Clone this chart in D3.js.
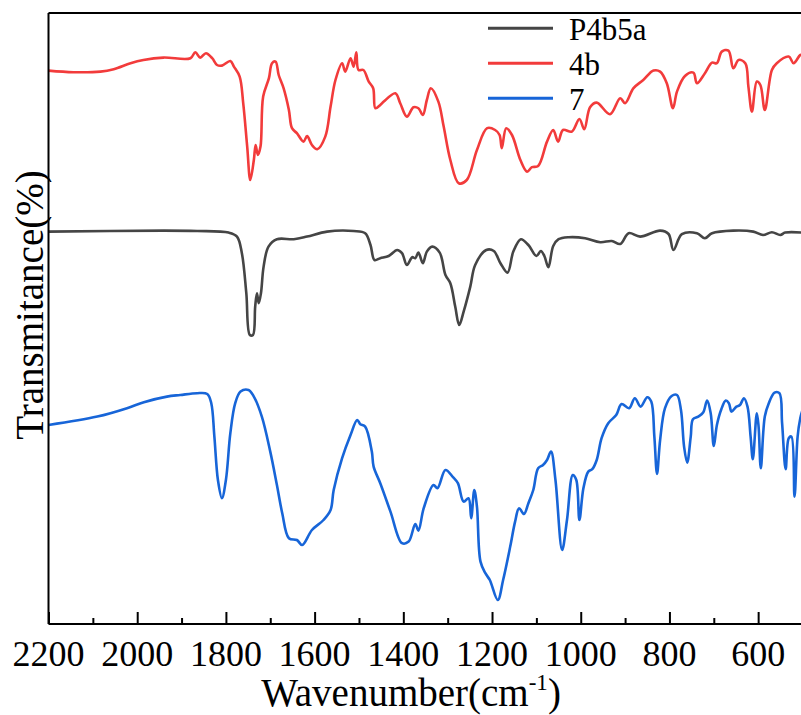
<!DOCTYPE html>
<html>
<head>
<meta charset="utf-8">
<script src="https://cdn.jsdelivr.net/npm/d3@7"></script>
<style>
  .lbl { font-family: 'Liberation Serif', 'Times New Roman', Tinos, serif !important; fill: #000; }
</style>
</head>
<body style="margin:0">
<svg id="chart" width="801" height="715"></svg>
<script>
// FTIR spectra, offset-stacked transmittance (arbitrary units), wavenumber in cm-1
const seriesNames = ["P4b5a", "4b", "7"];
const seriesColors = ["#454545", "#f23b3b", "#1765d8"];

const wnP4b5a = [2200,1940,1865,1794,1775,1764,1754,1746,1739,1734,1730,1726,1721,1715,1704,1685,1647,1617,1572,1512,1486,1474,1465,1452,1433,1414,1403,1392,1380,1373,1366,1356,1347,1335,1318,1305,1294,1283,1274,1264,1249,1238,1213,1196,1181,1165,1152,1135,1118,1100,1090,1082,1073,1062,1050,1027,990,956,930,911,892,866,821,802,791,772,738,720,704,656,611,589,569,550,539,500];
const tP4b5a = [195.2,195.7,195.5,194.7,192.7,184.4,164.4,143.5,143.5,157.7,164.4,159.4,164.4,177.7,187.7,191.4,191.4,192.7,195.2,195.5,194.4,188.5,181,181.9,183,186,184.4,178.5,182.4,181.9,184.7,179.4,185.2,187.7,184.7,173.5,169.4,157.7,148.5,155.2,167.7,178.5,186,185.5,179.4,174.7,185.2,191.4,188.5,183,185.5,183,177.4,188,191.4,192.4,191.9,189.9,190.5,189,194.4,192.7,195.7,194,186,193.9,194.4,191.9,194.4,195.7,195.2,193.5,194.9,193.5,194.7,194.7];

const wn4b = [2200,2144,2083,2053,2015,1986,1941,1880,1869,1858,1845,1831,1820,1809,1790,1782,1769,1761,1752,1745,1737,1733,1728,1722,1716,1703,1696,1688,1681,1670,1658,1651,1640,1625,1617,1606,1594,1576,1564,1553,1538,1531,1519,1512,1506,1501,1490,1478,1468,1463,1452,1444,1418,1407,1392,1377,1366,1356,1347,1338,1321,1309,1294,1275,1257,1234,1211,1193,1183,1178,1168,1155,1136,1121,1110,1096,1076,1062,1051,1040,1020,1003,992,979,964,934,911,900,881,859,836,821,806,792,783,765,746,738,720,704,693,682,667,656,644,629,622,614,603,595,585,569,558,531,520,505,500];
const t4b = [275.7,274.9,275.2,276.4,279.4,281,282.2,281.9,284.9,282.2,284.4,281.9,278.5,278.2,280.5,277.7,272.7,259.4,237.7,221,231,238.5,233.5,237.7,262.7,271.9,279.4,280.2,273.5,266.9,256,246.9,244.4,240.2,243,238.5,236.4,242.7,257.7,271,279.4,275.2,281.9,277.7,284.9,276,276,270.2,266.9,256.9,258.5,260.2,264.4,259.4,252.7,257.4,256.9,253.5,261,266.9,260.2,247.7,231,219.4,221,236,246.9,246,243.5,236.9,246.9,243.5,231,225.2,227.4,228,240.2,246,240.2,246,245.2,251.5,246.4,257.4,259.7,253.9,261.9,259.4,266.9,271,275.7,275.2,269.4,256.9,265.2,273,274.7,269.4,274.4,279.7,279.4,285.2,285.7,276.9,281,279.4,267.7,255.2,270.2,268.5,256,276,279.4,282.7,279.4,283.5,283.5];

const wn7 = [2200,2090,2023,1985,1933,1903,1865,1842,1833,1826,1818,1809,1800,1790,1779,1767,1749,1737,1719,1700,1685,1673,1658,1640,1628,1606,1580,1564,1557,1538,1519,1504,1497,1486,1471,1467,1452,1429,1403,1388,1373,1366,1354,1332,1323,1305,1288,1277,1264,1253,1247,1240,1234,1226,1215,1205,1187,1175,1159,1148,1139,1128,1118,1107,1096,1085,1076,1067,1057,1042,1031,1018,1010,1003,994,983,974,964,953,938,920,908,891,878,865,850,841,834,828,821,810,795,783,774,767,760,752,747,735,724,715,707,700,693,683,673,666,660,649,641,632,624,617,612,603,599,594,585,576,563,552,546,538,531,525,518,511,505,500];
const t7 = [98.5,102.7,106.9,109.9,112.7,113.5,114.4,114,109.4,92.7,71,61.9,71,94.4,109.4,115.2,116,112.7,102.7,85.2,68.5,54.4,41.9,41,38.5,46,51,56,66,81.9,93.5,101,98.9,97.7,85.2,77.7,69.4,55.2,39.4,40.2,49,45.7,56.9,68.5,66.9,76,72.4,69.4,60.2,61.9,51.9,66,57.7,30.2,24.4,21,11,21,37.7,50.2,56.9,54,59.4,66,76.9,78.5,81,85.2,71,36,51,73.5,71,51,66.9,75.2,76.4,81,91.9,99.4,103.5,109,106.9,111.9,107.7,112.4,110.2,92.7,74,91,106.9,113,113.5,106,87.7,79.7,92.7,101.4,102.7,104.7,110.7,104.4,88,98.5,106.4,110.7,109.4,105.2,107.7,108.5,111.9,107.7,92.7,81.4,104.4,97.7,76.9,102.7,109.4,114.7,114.4,99.4,76.4,91.9,92.7,62.7,92.7,101.9,106];

const xTicks = [2200, 2000, 1800, 1600, 1400, 1200, 1000, 800, 600];
const xMinorTicks = [2100, 1900, 1700, 1500, 1300, 1100, 900, 700, 500];

const series = [
  { name: seriesNames[0], color: seriesColors[0], wn: wnP4b5a, t: tP4b5a },
  { name: seriesNames[1], color: seriesColors[1], wn: wn4b, t: t4b },
  { name: seriesNames[2], color: seriesColors[2], wn: wn7, t: t7 }
];

const svg = d3.select("#chart");
const plot = { left: 48.5, top: 13, bottom: 624, right: 802.5 };

const x = d3.scaleLinear().domain([2200, 500]).range([plot.left, plot.right]);
const y = d3.scaleLinear().domain([0, 310]).range([622, 2]);

// label text in the serif face
function label(parent, size) {
  return parent.append("text")
    .attr("class", "lbl")
    .attr("font-family", "Liberation Serif")
    .attr("font-size", size);
}

// spectra, clipped to the frame
svg.append("defs").append("clipPath").attr("id", "plotClip")
  .append("rect")
  .attr("x", plot.left).attr("y", plot.top)
  .attr("width", plot.right - plot.left).attr("height", plot.bottom - plot.top);

const line = d3.line()
  .x(d => x(d[0]))
  .y(d => y(d[1]))
  .curve(d3.curveCatmullRom.alpha(0.5));

const lines = svg.append("g").attr("clip-path", "url(#plotClip)");
series.forEach(s => {
  lines.append("path")
    .datum(s.wn.map((w, i) => [w, s.t[i]]))
    .attr("fill", "none")
    .attr("stroke", s.color)
    .attr("stroke-width", 2.6)
    .attr("stroke-linejoin", "round")
    .attr("stroke-linecap", "round")
    .attr("d", line);
});

// frame: top and left borders
svg.append("line")
  .attr("x1", plot.left).attr("x2", 806)
  .attr("y1", plot.top).attr("y2", plot.top)
  .attr("stroke", "#000").attr("stroke-width", 2);
svg.append("line")
  .attr("x1", plot.left).attr("x2", plot.left)
  .attr("y1", plot.top).attr("y2", plot.bottom)
  .attr("stroke", "#000").attr("stroke-width", 2);

// bottom axis: ticks only, pointing inward
const xAxis = d3.axisBottom(x)
  .tickValues(xTicks)
  .tickFormat("")
  .tickSizeInner(-12)
  .tickSizeOuter(0);
const gx = svg.append("g")
  .attr("transform", `translate(0,${plot.bottom})`)
  .call(xAxis);
gx.select(".domain").attr("stroke", "#000").attr("stroke-width", 2.2)
  .attr("d", `M${plot.left},0H806`);
gx.selectAll(".tick line").attr("stroke", "#000").attr("stroke-width", 2);

const xMinor = d3.axisBottom(x)
  .tickValues(xMinorTicks)
  .tickFormat("")
  .tickSizeInner(-6)
  .tickSizeOuter(0);
const gxm = svg.append("g")
  .attr("transform", `translate(0,${plot.bottom})`)
  .call(xMinor);
gxm.select(".domain").remove();
gxm.selectAll(".tick line").attr("stroke", "#000").attr("stroke-width", 2);

// tick labels placed from the same scale
const tickLabels = svg.append("g");
xTicks.forEach(v => {
  label(tickLabels, 36)
    .attr("x", x(v)).attr("y", 666)
    .attr("text-anchor", "middle")
    .text(d3.format("d")(v));
});

// axis titles
const xTitle = label(svg, 39)
  .attr("x", 411).attr("y", 706)
  .attr("text-anchor", "middle");
xTitle.append("tspan").text("Wavenumber(cm");
xTitle.append("tspan").attr("font-size", 23).attr("dy", -16).text("-1");
xTitle.append("tspan").attr("dy", 16).text(")");

label(svg, 39)
  .attr("transform", "translate(43,305) rotate(-90)")
  .attr("text-anchor", "middle")
  .text("Transmitance(%)");

// legend
const legend = svg.append("g");
series.forEach((s, i) => {
  const ly = 28.3 + i * 35;
  legend.append("line")
    .attr("x1", 488).attr("x2", 553)
    .attr("y1", ly).attr("y2", ly)
    .attr("stroke", s.color).attr("stroke-width", 3);
  label(legend, 31)
    .attr("x", 569).attr("y", ly + 11.5)
    .text(s.name);
});
</script>
</body>
</html>
